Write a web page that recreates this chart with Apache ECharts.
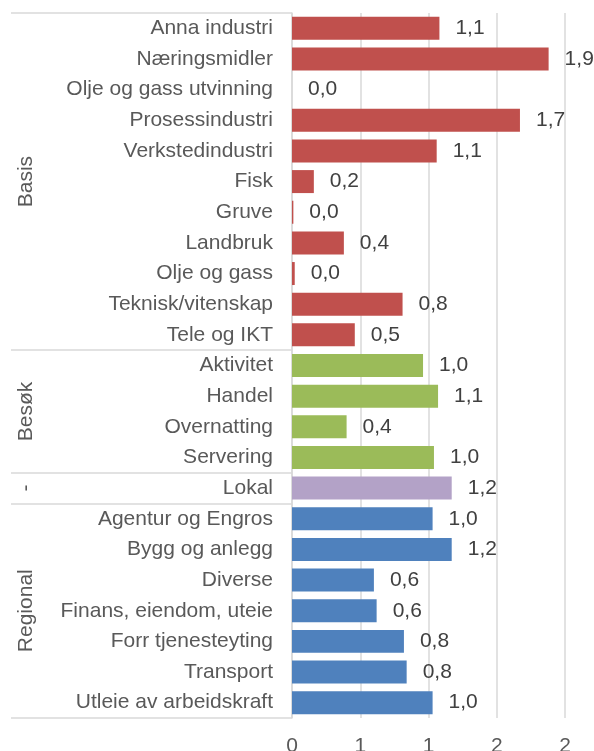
<!DOCTYPE html>
<html>
<head>
<meta charset="utf-8">
<script src="https://cdn.jsdelivr.net/npm/echarts@6/dist/echarts.min.js"></script>
<style>html,body{margin:0;padding:0;background:#fff}#c{width:594px;height:751px}</style>
</head>
<body>
<div id="c"></div>
<script>
var categories = ['Anna industri','Næringsmidler','Olje og gass utvinning','Prosessindustri','Verkstedindustri','Fisk','Gruve','Landbruk','Olje og gass','Teknisk/vitenskap','Tele og IKT',
  'Aktivitet','Handel','Overnatting','Servering',
  'Lokal',
  'Agentur og Engros','Bygg og anlegg','Diverse','Finans, eiendom, uteie','Forr tjenesteyting','Transport','Utleie av arbeidskraft'];
var values = [1.08,1.88,0.0,1.67,1.06,0.16,0.01,0.38,0.02,0.81,0.46,
  0.96,1.07,0.40,1.04,
  1.17,
  1.03,1.17,0.60,0.62,0.82,0.84,1.03];
var groupNames = ['Basis','Besøk','-','Regional'];
var groupSizes = [11,4,1,7];
var groupColors = ['#C0504D','#9BBB59','#B3A2C7','#4F81BD'];
var xTickLabels = ['0','1','1','2','2'];

// derived: group boundaries and centers (in category units)
var boundaries = [0], centers = [], itemColors = [];
groupSizes.forEach(function(s, gi){
  var start = boundaries[boundaries.length-1];
  boundaries.push(start + s);
  centers.push(start + s/2);
  for (var k=0;k<s;k++) itemColors.push(groupColors[gi]);
});

var FONT = '"Liberation Sans", Arial, sans-serif';
var chart = echarts.init(document.getElementById('c'), null, {renderer:'canvas'});
chart.setOption({
  animation:false,
  backgroundColor:'#fff',
  grid:{left:292, right:29, top:13, bottom:33, containLabel:false, outerBoundsMode:'none'},
  xAxis:{
    type:'value', min:0, max:2, interval:0.5,
    axisLine:{show:false}, axisTick:{show:false},
    splitLine:{show:true, lineStyle:{color:'#D9D9D9', width:1.5}},
    axisLabel:{color:'#595959', fontSize:21, fontFamily:FONT, margin:18,
      formatter:function(v){ return xTickLabels[Math.round(v/0.5)]; }}
  },
  yAxis:[{
    type:'category', data:categories, inverse:true,
    axisLine:{show:true, lineStyle:{color:'#D9D9D9', width:1.5}},
    axisTick:{show:false},
    axisLabel:{color:'#595959', fontSize:21, fontFamily:FONT, margin:19}
  },{
    type:'value', min:0, max:categories.length, inverse:true, position:'left',
    axisLine:{show:false},
    splitLine:{show:false},
    axisTick:{show:true, length:281, customValues:boundaries, lineStyle:{color:'#D9D9D9', width:1.5}},
    axisLabel:{show:true, customValues:centers, rotate:90, color:'#595959', fontSize:21, fontFamily:FONT, margin:255,
      formatter:function(v){ var i = centers.indexOf(v); return i>=0 ? groupNames[i] : ''; }}
  }],
  series:[{
    type:'bar', yAxisIndex:0,
    barCategoryGap:'25%',
    data: values.map(function(v,i){ return {value:v, itemStyle:{color:itemColors[i]}}; }),
    label:{show:true, position:'right', distance:16, color:'#404040', fontSize:21, fontFamily:FONT,
      formatter:function(p){ return p.value.toFixed(1).replace('.', ','); }}
  }]
});
</script>
</body>
</html>
